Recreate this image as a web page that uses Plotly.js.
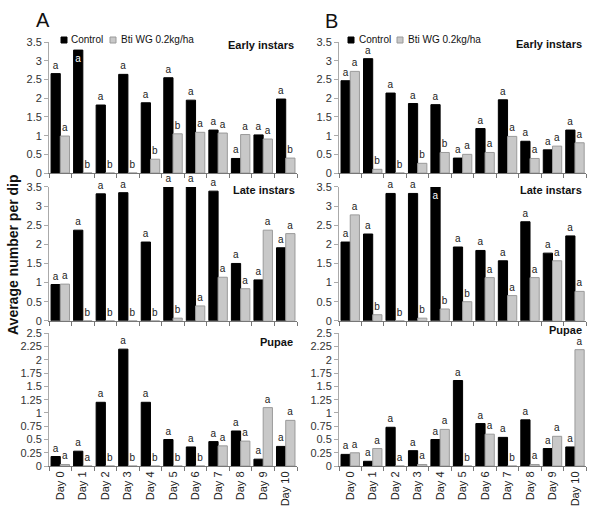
<!DOCTYPE html>
<html>
<head>
<meta charset="utf-8">
<script src="https://cdn.plot.ly/plotly-3.0.1.min.js"></script>
<style>
  html, body { margin: 0; padding: 0; background: white; }
  #chart { width: 600px; height: 515px; }
</style>
</head>
<body>
<div id="chart"></div>
<script>
const DAYS = [ 'Day 0', 'Day 1', 'Day 2', 'Day 3', 'Day 4', 'Day 5',
               'Day 6', 'Day 7', 'Day 8', 'Day 9', 'Day 10' ];
const SERIES = [ 'Control', 'Bti WG 0.2kg/ha' ];

// Panel A
const A_EARLY_CTRL     = [ 2.66, 3.29, 1.82, 2.64, 1.88, 2.55, 1.95, 1.15, 0.39, 1.02, 1.98 ];
const A_EARLY_BTI      = [ 0.99, 0, 0, 0, 0.37, 1.05, 1.09, 1.07, 1.03, 0.91, 0.40 ];
const A_EARLY_CTRL_SIG = [ 'a', 'a', 'a', 'a', 'a', 'a', 'a', 'a', 'a', 'a', 'a' ];
const A_EARLY_BTI_SIG  = [ 'a', 'b', 'b', 'b', 'b', 'b', 'a', 'a', 'a', 'a', 'b' ];

const A_LATE_CTRL      = [ 0.95, 2.37, 3.32, 3.35, 2.06, 3.5, 3.5, 3.39, 1.50, 1.07, 1.91 ];
const A_LATE_BTI       = [ 0.96, 0, 0, 0, 0, 0.07, 0.39, 1.14, 0.84, 2.37, 2.28 ];
const A_LATE_CTRL_SIG  = [ 'a', 'a', 'a', 'a', 'a', 'a', 'a', 'a', 'a', 'a', 'a' ];
const A_LATE_BTI_SIG   = [ 'a', 'b', 'b', 'b', 'b', 'b', 'a', 'a', 'a', 'a', 'a' ];

const A_PUPAE_CTRL     = [ 0.18, 0.28, 1.20, 2.20, 1.20, 0.50, 0.36, 0.46, 0.66, 0.13, 0.37 ];
const A_PUPAE_BTI      = [ 0.03, 0, 0, 0, 0, 0, 0, 0.38, 0.47, 1.10, 0.86 ];
const A_PUPAE_CTRL_SIG = [ 'a', 'a', 'a', 'a', 'a', 'a', 'a', 'a', 'a', 'a', 'a' ];
const A_PUPAE_BTI_SIG  = [ 'a', 'a', 'b', 'b', 'b', 'b', 'b', 'a', 'a', 'a', 'a' ];

// Panel B
const B_EARLY_CTRL     = [ 2.47, 3.06, 2.14, 1.86, 1.83, 0.40, 1.19, 1.96, 0.85, 0.62, 1.15 ];
const B_EARLY_BTI      = [ 2.72, 0.10, 0, 0.26, 0.55, 0.50, 0.55, 0.98, 0.39, 0.72, 0.81 ];
const B_EARLY_CTRL_SIG = [ 'a', 'a', 'a', 'a', 'a', 'a', 'a', 'a', 'a', 'a', 'a' ];
const B_EARLY_BTI_SIG  = [ 'a', 'b', 'b', 'b', 'b', 'a', 'a', 'a', 'a', 'a', 'a' ];

const B_LATE_CTRL      = [ 2.06, 2.27, 3.33, 3.33, 3.5, 1.93, 1.84, 1.57, 2.59, 1.77, 2.22 ];
const B_LATE_BTI       = [ 2.77, 0.16, 0, 0.07, 0.31, 0.50, 1.13, 0.66, 1.13, 1.57, 0.77 ];
const B_LATE_CTRL_SIG  = [ 'a', 'a', 'a', 'a', 'a', 'a', 'a', 'a', 'a', 'a', 'a' ];
const B_LATE_BTI_SIG   = [ 'a', 'b', 'b', 'b', 'b', 'b', 'a', 'a', 'a', 'a', 'a' ];

const B_PUPAE_CTRL     = [ 0.22, 0.09, 0.73, 0.29, 0.50, 1.61, 0.80, 0.54, 0.87, 0.33, 0.36 ];
const B_PUPAE_BTI      = [ 0.25, 0.33, 0, 0.03, 0.69, 0, 0.60, 0, 0.03, 0.56, 2.19 ];
const B_PUPAE_CTRL_SIG = [ 'a', 'a', 'a', 'a', 'a', 'a', 'a', 'a', 'a', 'a', 'a' ];
const B_PUPAE_BTI_SIG  = [ 'a', 'a', 'a', 'a', 'a', 'b', 'a', 'b', 'a', 'a', 'a' ];

// labels drawn inside the bar (white) where there is no room above
const A_EARLY_CTRL_INSIDE = [ 1 ];
const B_LATE_CTRL_INSIDE  = [ 4 ];

const FONT       = 'Arial, "Liberation Sans", sans-serif';
const CTRL_COLOR = '#000000';
const BTI_COLOR  = '#c8c8c8';
const BTI_LINE   = '#9a9a9a';
const W = 600, H = 515;

const X_DOM = [ [ 0.0817, 0.495 ], [ 0.565, 0.977 ] ];
const Y_DOM = [ [ 0.664, 0.918 ], [ 0.377, 0.637 ], [ 0.095, 0.353 ] ];

function positions( n, inside ) {
	let out = [];
	for ( let i = 0; i < n; i++ ) {
		out.push( inside.indexOf( i ) >= 0 ? 'inside' : 'outside' );
	}
	return out;
}

function make_bar( y, sig, s, ax, inside = [] ) {
	let color = s === 0 ? CTRL_COLOR : BTI_COLOR;
	let line  = s === 0 ? CTRL_COLOR : BTI_LINE;
	return {
		type: 'bar', x: DAYS, y: y, name: SERIES[ s ],
		text: sig, textposition: positions( y.length, inside ),
		insidetextanchor: 'end',
		insidetextfont : { family: FONT, size: 10, color: 'white' },
		outsidetextfont: { family: FONT, size: 10, color: '#222' },
		constraintext: 'none', cliponaxis: false,
		marker: { color: color, line: { color: line, width: 1 } },
		xaxis: 'x' + ax, yaxis: 'y' + ax,
		showlegend: false, hoverinfo: 'skip'
	};
}

let traces = [
	make_bar( A_EARLY_CTRL, A_EARLY_CTRL_SIG, 0, '', A_EARLY_CTRL_INSIDE ),
	make_bar( A_EARLY_BTI,  A_EARLY_BTI_SIG,  1, '' ),
	make_bar( B_EARLY_CTRL, B_EARLY_CTRL_SIG, 0, '2' ),
	make_bar( B_EARLY_BTI,  B_EARLY_BTI_SIG,  1, '2' ),
	make_bar( A_LATE_CTRL,  A_LATE_CTRL_SIG,  0, '3' ),
	make_bar( A_LATE_BTI,   A_LATE_BTI_SIG,   1, '3' ),
	make_bar( B_LATE_CTRL,  B_LATE_CTRL_SIG,  0, '4', B_LATE_CTRL_INSIDE ),
	make_bar( B_LATE_BTI,   B_LATE_BTI_SIG,   1, '4' ),
	make_bar( A_PUPAE_CTRL, A_PUPAE_CTRL_SIG, 0, '5' ),
	make_bar( A_PUPAE_BTI,  A_PUPAE_BTI_SIG,  1, '5' ),
	make_bar( B_PUPAE_CTRL, B_PUPAE_CTRL_SIG, 0, '6' ),
	make_bar( B_PUPAE_BTI,  B_PUPAE_BTI_SIG,  1, '6' )
];

function x_axis( col, row, anchor ) {
	return {
		domain: X_DOM[ col ], anchor: anchor, type: 'category',
		showline: true, linecolor: '#777', linewidth: 1,
		ticks: 'outside', tickson: 'boundaries', ticklen: 4, tickcolor: '#777',
		showticklabels: row === 2, tickangle: -90,
		tickfont: { family: FONT, size: 11, color: '#222' },
		showgrid: false, zeroline: false, fixedrange: true
	};
}

function y_axis( row, anchor, top, dtick ) {
	return {
		domain: Y_DOM[ row ], anchor: anchor, range: [ 0, top ], dtick: dtick,
		showline: true, linecolor: '#aaa', linewidth: 1,
		ticks: 'outside', ticklen: 4, tickcolor: '#aaa',
		tickfont: { family: FONT, size: 11, color: '#333' },
		showgrid: false, zeroline: false, fixedrange: true
	};
}

function txt( text, px, py, anchor, size, angle = 0 ) {
	return {
		text: text, xref: 'paper', yref: 'paper', x: px / W, y: 1 - py / H,
		xanchor: anchor, yanchor: 'middle', showarrow: false, textangle: angle,
		font: { family: FONT, size: size, color: '#111' }
	};
}

function square( px, py, s ) {
	return {
		type: 'rect', xref: 'paper', yref: 'paper',
		x0: px / W, x1: ( px + 6 ) / W, y0: 1 - ( py + 3 ) / H, y1: 1 - ( py - 3 ) / H,
		fillcolor: s === 0 ? CTRL_COLOR : BTI_COLOR,
		line: { color: s === 0 ? CTRL_COLOR : BTI_LINE, width: 1 }
	};
}

// legend: square x, text x for each series, per panel
const LEG_Y = 40;
const LEG_A = [ [ 61, 69 ], [ 110, 119 ] ];
const LEG_B = [ [ 348, 357 ], [ 397, 406 ] ];

let shapes = [];
let annotations = [
	txt( 'A', 43, 20, 'center', 20 ),
	txt( 'B', 331, 21, 'center', 20 ),
	txt( '<b>Average number per dip</b>', 13, 255, 'center', 14, -90 ),
	txt( '<b>Early instars</b>', 296, 45, 'right', 11 ),
	txt( '<b>Early instars</b>', 584, 44, 'right', 11 ),
	txt( '<b>Late instars</b>',  297, 190, 'right', 11 ),
	txt( '<b>Late instars</b>',  584, 190, 'right', 11 ),
	txt( '<b>Pupae</b>',         295, 342, 'right', 11 ),
	txt( '<b>Pupae</b>',         584, 330, 'right', 11 )
];
[ LEG_A, LEG_B ].forEach( function( leg ) {
	for ( let s = 0; s < SERIES.length; s++ ) {
		shapes.push( square( leg[ s ][ 0 ], LEG_Y, s ) );
		annotations.push( txt( SERIES[ s ], leg[ s ][ 1 ], LEG_Y, 'left', 10 ) );
	}
} );

let layout = {
	width: W, height: H,
	margin: { l: 0, r: 0, t: 0, b: 0 },
	paper_bgcolor: 'white', plot_bgcolor: 'white',
	font: { family: FONT },
	showlegend: false,
	barmode: 'group', bargap: 0.18, bargroupgap: 0,
	xaxis : x_axis( 0, 0, 'y' ),  yaxis : y_axis( 0, 'x', 3.5, 0.5 ),
	xaxis2: x_axis( 1, 0, 'y2' ), yaxis2: y_axis( 0, 'x2', 3.5, 0.5 ),
	xaxis3: x_axis( 0, 1, 'y3' ), yaxis3: y_axis( 1, 'x3', 3.5, 0.5 ),
	xaxis4: x_axis( 1, 1, 'y4' ), yaxis4: y_axis( 1, 'x4', 3.5, 0.5 ),
	xaxis5: x_axis( 0, 2, 'y5' ), yaxis5: y_axis( 2, 'x5', 2.5, 0.25 ),
	xaxis6: x_axis( 1, 2, 'y6' ), yaxis6: y_axis( 2, 'x6', 2.5, 0.25 ),
	shapes: shapes,
	annotations: annotations
};

Plotly.newPlot( 'chart', traces, layout, { staticPlot: true } );
</script>
</body>
</html>
